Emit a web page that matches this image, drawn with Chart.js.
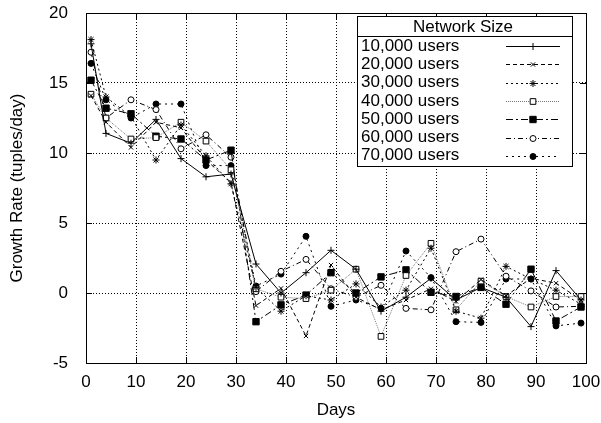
<!DOCTYPE html>
<html>
<head>
<meta charset="utf-8">
<script src="https://cdn.jsdelivr.net/npm/chart.js@4/dist/chart.umd.min.js"></script>
<style>
  body { margin: 0; background: #fff; }
  #wrap { width: 601px; height: 423px; }
</style>
</head>
<body>
<div id="wrap"><canvas id="growthChart" width="601" height="423"></canvas></div>
<script>
// days where each network size was sampled
const days = [1, 4, 9, 14, 19, 24, 29, 34, 39, 44, 49, 54, 59, 64, 69, 74, 79, 84, 89, 94, 99];

// growth rate (tuples/day)
const users10k = [17.8, 11.4, 10.7, 12.4, 9.6, 8.3, 8.5, 2.07, 0.0, 1.45, 3.05, 1.7, -1.3, -0.3, 1.05, -0.5, 0.4, -0.3, -2.4, 1.6, -0.5];
const users20k = [14.1, 12.2, 10.4, 12.2, 11.8, 9.5, 7.9, -0.9, 0.33, -3.07, 2.0, -0.3, -1.2, -0.5, 0.3, -0.6, 0.95, -0.2, 1.05, 0.7, -0.5];
const users30k = [18.1, 14.0, 12.6, 9.5, 12.0, 9.8, 7.8, 0.4, -1.3, -0.2, -0.5, 0.65, -1.0, 0.2, 3.2, -1.3, -1.8, 1.9, 1.0, 0.2, -0.8];
const users40k = [14.2, 12.5, 11.0, 11.1, 12.2, 10.85, 8.8, 0.3, -0.3, -0.4, 0.2, 1.7, -3.1, 1.25, 3.55, -1.2, 0.85, -0.25, -1.0, -0.25, -0.25];
const users50k = [15.2, 13.2, 12.8, 11.2, 11.0, 9.5, 10.2, -2.05, -0.85, -0.15, 1.45, 0.0, 1.15, 1.65, 0.05, -0.25, 0.4, -0.8, 1.7, -2.0, -1.0];
const users60k = [17.2, 12.5, 13.8, 13.1, 10.3, 11.3, 9.7, 0.1, 1.55, 2.4, 0.3, -0.3, 0.55, -1.1, -1.2, 2.95, 3.85, 1.2, 0.15, -1.0, -0.95];
const users70k = [16.4, 13.8, 12.5, 13.5, 13.5, 9.1, 9.1, 0.5, 1.35, 4.05, -0.95, -0.5, -1.1, 3.0, 1.1, -2.05, -2.1, 1.0, 1.0, -2.35, -2.15];

const seriesLabels = ['10,000 users', '20,000 users', '30,000 users', '40,000 users', '50,000 users', '60,000 users', '70,000 users'];
const legendTitle = 'Network Size';
const xTicks = [0, 10, 20, 30, 40, 50, 60, 70, 80, 90, 100];
const yTicks = [-5, 0, 5, 10, 15, 20];

const FONT = '"Liberation Sans", Arial, sans-serif';

// gnuplot-ish line and point styles
const styles = [
  { dash: [], point: 'cross', fill: '#000', r: 3.5, color: '#000' },
  { dash: [4, 3], point: 'crossRot', fill: '#000', r: 3, color: '#000' },
  { dash: [2, 3], point: 'star', fill: '#000', r: 3.5, color: '#000' },
  { dash: [1, 1], point: 'rect', fill: '#fff', r: 4, color: '#777' },
  { dash: [7, 3, 2, 3], point: 'rect', fill: '#000', r: 4.5, color: '#000' },
  { dash: [5, 3, 1, 3], point: 'circle', fill: '#fff', r: 3, color: '#000' },
  { dash: [2, 4], point: 'circle', fill: '#000', r: 3, color: '#000' }
];

const values = [users10k, users20k, users30k, users40k, users50k, users60k, users70k];

const datasets = values.map((vals, i) => ({
  label: seriesLabels[i],
  data: days.map((d, j) => ({ x: d, y: vals[j] })),
  borderColor: styles[i].color,
  borderWidth: 1,
  borderDash: styles[i].dash,
  pointStyle: styles[i].point,
  pointRadius: styles[i].r,
  pointBorderColor: '#000',
  pointBackgroundColor: styles[i].fill,
  pointBorderWidth: 1,
  tension: 0,
  fill: false
}));

// frame, inward ticks and boxed legend like gnuplot
const gnuplotLook = {
  id: 'gnuplotLook',
  afterDatasetsDraw(chart) {
    const { ctx, chartArea: a, scales } = chart;
    ctx.save();
    ctx.strokeStyle = '#000';
    ctx.lineWidth = 1;
    ctx.setLineDash([]);
    ctx.strokeRect(Math.round(a.left) + 0.5, Math.round(a.top) + 0.5, Math.round(a.width), Math.round(a.height));
    ctx.beginPath();
    xTicks.forEach(v => {
      const px = Math.round(scales.x.getPixelForValue(v)) + 0.5;
      ctx.moveTo(px, a.bottom); ctx.lineTo(px, a.bottom - 6);
      ctx.moveTo(px, a.top); ctx.lineTo(px, a.top + 6);
    });
    yTicks.forEach(v => {
      const py = Math.round(scales.y.getPixelForValue(v)) + 0.5;
      ctx.moveTo(a.left, py); ctx.lineTo(a.left + 6, py);
      ctx.moveTo(a.right, py); ctx.lineTo(a.right - 6, py);
    });
    ctx.stroke();

    // legend box
    const L = 357.5, R = 572.5, T = 16.5, H = 36.5, B = 166.5;
    ctx.fillStyle = '#fff';
    ctx.fillRect(L, T, R - L, B - T);
    ctx.strokeRect(L, T, R - L, B - T);
    ctx.beginPath(); ctx.moveTo(L, H); ctx.lineTo(R, H); ctx.stroke();
    ctx.fillStyle = '#000';
    ctx.font = '17px ' + FONT;
    ctx.textBaseline = 'middle';
    ctx.textAlign = 'center';
    ctx.fillText(legendTitle, 463, 27);
    ctx.textAlign = 'left';
    chart.data.datasets.forEach((ds, i) => {
      const y = 46 + i * 18.3;
      ctx.fillStyle = '#000';
      ctx.fillText(ds.label, 361, y);
      const ly = Math.round(y) + 0.5;
      ctx.strokeStyle = ds.borderColor;
      ctx.setLineDash(ds.borderDash);
      ctx.beginPath(); ctx.moveTo(506, ly); ctx.lineTo(560, ly); ctx.stroke();
      ctx.setLineDash([]);
      ctx.strokeStyle = '#000';
      ctx.fillStyle = ds.pointBackgroundColor;
      Chart.helpers.drawPoint(ctx, { pointStyle: ds.pointStyle, radius: ds.pointRadius, rotation: 0, borderWidth: 1 }, 533, ly);
    });
    ctx.restore();
  }
};

const ctx = document.getElementById('growthChart').getContext('2d');
const growthChart = new Chart(ctx, {
  type: 'line',
  data: { datasets },
  plugins: [gnuplotLook],
  options: {
    responsive: false,
    animation: false,
    layout: { padding: { top: 13, right: 15, bottom: 0, left: 0 } },
    plugins: {
      legend: { display: false },
      tooltip: { enabled: false }
    },
    scales: {
      x: {
        type: 'linear',
        min: 0, max: 100,
        afterBuildTicks: s => { s.ticks = xTicks.map(v => ({ value: v })); },
        afterFit: s => { s.height = 60; s.paddingLeft = 0; s.paddingRight = 0; },
        ticks: { color: '#000', font: { family: FONT, size: 17 }, padding: 9, maxRotation: 0 },
        grid: { color: '#000', lineWidth: 1, drawTicks: false },
        border: { color: '#000', dash: [1, 2] },
        title: { display: true, text: 'Days', color: '#000', font: { family: FONT, size: 17 }, padding: { top: 4, bottom: 2 } }
      },
      y: {
        min: -5, max: 20,
        afterBuildTicks: s => { s.ticks = yTicks.map(v => ({ value: v })); },
        afterFit: s => { s.width = 86; s.paddingTop = 0; s.paddingBottom = 0; },
        ticks: { color: '#000', font: { family: FONT, size: 17 }, padding: 18 },
        grid: { color: '#000', lineWidth: 1, drawTicks: false },
        border: { color: '#000', dash: [1, 2] },
        title: { display: true, text: 'Growth Rate (tuples/day)', color: '#000', font: { family: FONT, size: 17 }, padding: { top: 7, bottom: 2 } }
      }
    }
  }
});
</script>
</body>
</html>
